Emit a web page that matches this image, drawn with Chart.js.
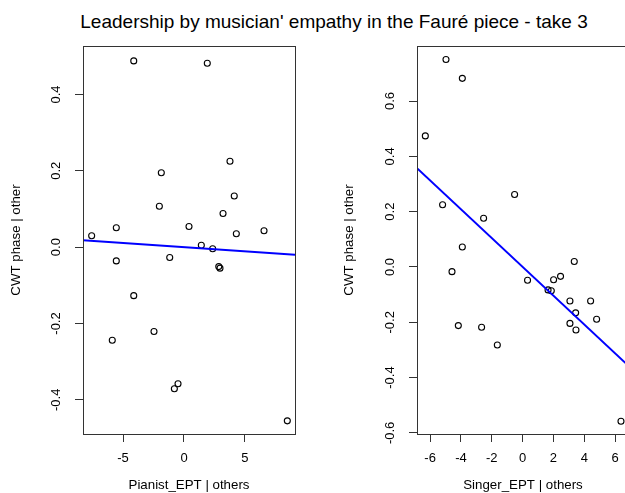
<!DOCTYPE html>
<html><head><meta charset="utf-8">
<script src="https://cdn.jsdelivr.net/npm/chart.js@4"></script>
<style>
html,body{margin:0;padding:0;background:#fff;overflow:hidden;width:625px;height:493px}
#wrap{position:relative;width:668px;height:493px}
#title{position:absolute;left:0;top:11.6px;width:668px;text-align:center;font:19px/19px "Liberation Sans",Arial,sans-serif;color:#000;white-space:nowrap}
.pane{position:absolute;top:0;width:334px;height:493px}
</style></head><body>
<div id="wrap">
<div id="title">Leadership by musician' empathy in the Fauré piece - take 3</div>
<div class="pane" style="left:0"><canvas id="c1" width="334" height="493"></canvas></div>
<div class="pane" style="left:334px"><canvas id="c2" width="334" height="493"></canvas></div>
</div>
<script>
// ---- data ----
const pianistX = [-7.57, -4.12, 1.91, 3.77, -1.86, 4.12, -2.02, 3.20, 0.41, -5.55, 6.56, 4.29, 1.42, 2.35, -5.55, -1.17, 2.85, 2.95, -4.12, -2.46, -5.88, -0.49, -0.79, 8.47];
const pianistY = [0.030, 0.488, 0.482, 0.225, 0.195, 0.134, 0.107, 0.088, 0.054, 0.051, 0.043, 0.035, 0.005, -0.004, -0.036, -0.027, -0.051, -0.055, -0.127, -0.221, -0.244, -0.358, -0.371, -0.455];
const pianistFitX = [-8.28, 9.10];
const pianistFitY = [0.018, -0.020];

const singerX = [-4.97, -3.91, -6.31, -0.52, -5.19, -2.53, -3.91, 3.35, -4.58, 0.32, 2.01, 2.46, 1.65, 1.86, 3.07, 4.41, 3.44, 4.80, 3.07, 3.46, -4.17, -2.66, -1.64, 6.38];
const singerY = [0.750, 0.682, 0.474, 0.262, 0.225, 0.176, 0.072, 0.020, -0.017, -0.048, -0.046, -0.034, -0.083, -0.086, -0.123, -0.123, -0.166, -0.189, -0.204, -0.228, -0.212, -0.218, -0.282, -0.558];
const singerFitX = [-6.85, 6.90];
const singerFitY = [0.357, -0.359];

const pianistXTicks = [-5, 0, 5];
const pianistYTicks = [-0.4, -0.2, 0.0, 0.2, 0.4];
const singerXTicks = [-6, -4, -2, 0, 2, 4, 6];
const singerYTicks = [-0.6, -0.4, -0.2, 0.0, 0.2, 0.4, 0.6];

const titleText = "Leadership by musician' empathy in the Fauré piece - take 3";
const pianistXLabel = "Pianist_EPT | others";
const singerXLabel = "Singer_EPT | others";
const yLabel = "CWT phase | other";

// ---- drawing ----
const FONT = '"Liberation Sans", Arial, sans-serif';
Chart.defaults.font.family = FONT;
document.getElementById('title').textContent = titleText;

const boxPlugin = {
  id: 'box',
  afterDatasetsDraw(chart) {
    const a = chart.chartArea, ctx = chart.ctx;
    ctx.save();
    ctx.strokeStyle = '#333';
    ctx.lineWidth = 1;
    const l = Math.round(a.left) + 0.5, t = Math.round(a.top) + 0.5;
    ctx.strokeRect(l, t, Math.round(a.right) - Math.round(a.left), Math.round(a.bottom) - Math.round(a.top));
    ctx.restore();
  }
};

function makeChart(id, xs, ys, fx, fy, xTicks, yTicks, xr, yr, xTitle, yTitlePad) {
  const pts = xs.map((x, i) => ({x: x, y: ys[i]}));
  const fit = fx.map((x, i) => ({x: x, y: fy[i]}));
  return new Chart(document.getElementById(id), {
    type: 'scatter',
    data: {
      datasets: [
        {data: pts, pointStyle: 'circle', pointRadius: 3, pointBorderWidth: 1.1,
         borderColor: '#000', backgroundColor: 'rgba(0,0,0,0)', showLine: false, order: 1},
        {data: fit, showLine: true, borderColor: '#0000ff', borderWidth: 2, pointRadius: 0,
         fill: false, order: 0}
      ]
    },
    options: {
      responsive: false,
      animation: false,
      events: [],
      layout: {padding: {left: 0, top: 46, right: 39, bottom: 0}},
      plugins: {legend: {display: false}, tooltip: {enabled: false}},
      scales: {
        x: {
          type: 'linear', min: xr[0], max: xr[1],
          afterBuildTicks: s => { s.ticks = xTicks.map(v => ({value: v})); },
          afterFit: s => { s.height = 59; },
          grid: {drawOnChartArea: false, drawTicks: true, tickLength: 8, color: '#333'},
          border: {display: false},
          ticks: {autoSkip: false, padding: 9, color: '#000', font: {size: 13},
                  maxRotation: 0, minRotation: 0, callback: v => String(v)},
          title: {display: true, text: xTitle, color: '#000', font: {size: 13.3}, padding: {top: 0, bottom: 0}}
        },
        y: {
          type: 'linear', min: yr[0], max: yr[1],
          afterBuildTicks: s => { s.ticks = yTicks.map(v => ({value: v})); },
          afterFit: s => { s.width = 83; },
          grid: {drawOnChartArea: false, drawTicks: true, tickLength: 8, color: '#333'},
          border: {display: false},
          ticks: {autoSkip: false, padding: 7.3, color: '#000', font: {size: 13},
                  minRotation: 90, maxRotation: 90, crossAlign: 'center',
                  callback: v => Number(v).toFixed(1)},
          title: {display: true, text: yLabel, color: '#000', font: {size: 13.3}, padding: {top: yTitlePad, bottom: 0}}
        }
      }
    },
    plugins: [boxPlugin]
  });
}

makeChart('c1', pianistX, pianistY, pianistFitX, pianistFitY, pianistXTicks, pianistYTicks,
          [-8.28, 9.10], [-0.4895, 0.527], pianistXLabel, 8.5);
makeChart('c2', singerX, singerY, singerFitX, singerFitY, singerXTicks, singerYTicks,
          [-6.85, 6.90], [-0.604, 0.799], singerXLabel, 7);
</script>
</body></html>
